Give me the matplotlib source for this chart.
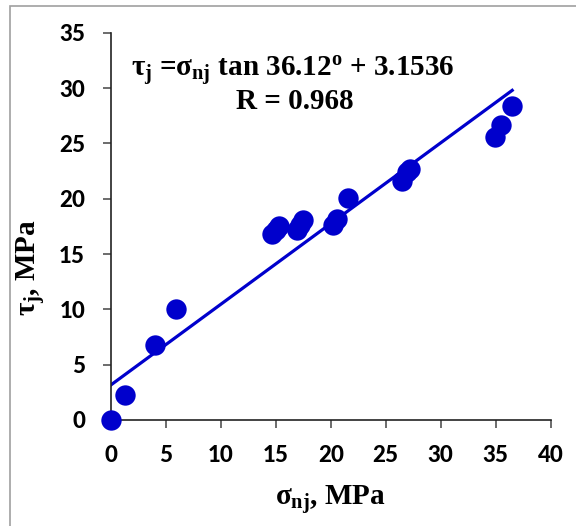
import numpy as np
import matplotlib
matplotlib.use("Agg")
import matplotlib.pyplot as plt
from matplotlib.patches import Rectangle

# Joint shear strength vs. normal stress
sigma_nj = [0.0, 1.3, 4.0, 5.9, 14.7, 15.0, 15.3, 16.9, 17.2, 17.5,
            20.2, 20.6, 21.6, 26.5, 26.9, 27.2, 34.9, 35.5, 36.5]
tau_j = [0.0, 2.3, 6.8, 10.0, 16.8, 17.2, 17.5, 17.2, 17.6, 18.1,
         17.6, 18.2, 20.1, 21.6, 22.4, 22.7, 25.6, 26.7, 28.4]

# Fitted Mohr-Coulomb line
friction_angle_deg = 36.12
cohesion = 3.1536
r_value = 0.968

x_ticks = [0, 5, 10, 15, 20, 25, 30, 35, 40]
y_ticks = [0, 5, 10, 15, 20, 25, 30, 35]

plt.rcParams["mathtext.fontset"] = "custom"
plt.rcParams["mathtext.rm"] = "Liberation Serif:bold"
plt.rcParams["mathtext.it"] = "Liberation Serif:bold"
plt.rcParams["mathtext.bf"] = "Liberation Serif:bold"

W, H = 576, 526
fig = plt.figure(figsize=(W / 100, H / 100), dpi=100)
fig.patch.set_facecolor("white")

# Outer chart border
fig.patches.append(Rectangle((9.5 / W, -0.1), 1.2, 1.1 - 6.5 / H,
                             transform=fig.transFigure, fill=False,
                             edgecolor="#a0a0a0", linewidth=1.2))

left, right = 110.7 / W, 550.7 / W
bottom, top = (H - 420) / H, (H - 32.7) / H
ax = fig.add_axes([left, bottom, right - left, top - bottom])

blue = "#0000CC"
slope = np.tan(np.radians(friction_angle_deg))
xfit = np.array([0.0, max(sigma_nj)])
ax.plot(xfit, slope * xfit + cohesion, color=blue, linewidth=2.3, zorder=2)
ax.scatter(sigma_nj, tau_j, s=215, color=blue, linewidths=0, zorder=3,
           clip_on=False)

ax.set_xlim(0, 40)
ax.set_ylim(0, 35)
ax.set_xticks(x_ticks)
ax.set_yticks(y_ticks)
for s in ("top", "right"):
    ax.spines[s].set_visible(False)
for s in ("left", "bottom"):
    ax.spines[s].set_linewidth(1.2)
    ax.spines[s].set_color("#222222")
ax.tick_params(direction="out", length=6, width=1.1, color="#444444")
ax.tick_params(axis="y", pad=12.5)
ax.tick_params(axis="x", pad=12)
for lbl in ax.get_xticklabels() + ax.get_yticklabels():
    lbl.set_fontfamily("Lato")
    lbl.set_fontweight("black")
    lbl.set_fontsize(16)

ax.set_xlabel(r"$\sigma_{nj}$, MPa", fontsize=21, fontweight="bold",
              family="Liberation Serif", labelpad=12)
ax.set_ylabel(r"$\tau_j$, MPa", fontsize=21, fontweight="bold",
              family="Liberation Serif")
ax.yaxis.set_label_coords(-0.145, 0.395)

eq = (r"$\tau_j$ =$\sigma_{nj}$ tan %.2f$^o$ + %.4f"
      % (friction_angle_deg, cohesion))
ax.text(0.414, 0.886, eq, transform=ax.transAxes, ha="center", va="baseline",
        fontsize=21, fontweight="bold", family="Liberation Serif")
ax.text(0.418, 0.802, "R = %.3f" % r_value, transform=ax.transAxes,
        ha="center", va="baseline", fontsize=21, fontweight="bold",
        family="Liberation Serif")

fig.savefig("out.png", dpi=100, facecolor="white")
